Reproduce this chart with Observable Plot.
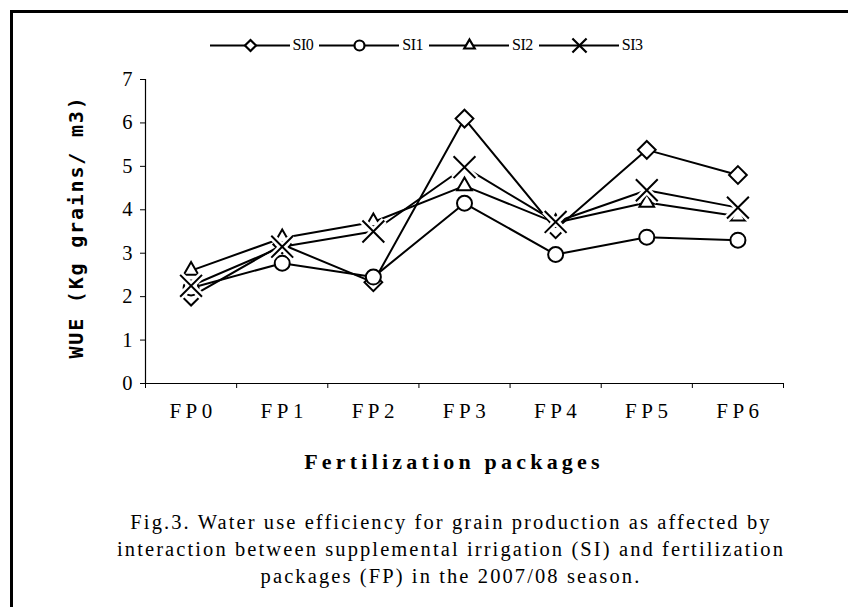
<!DOCTYPE html>
<html>
<head>
<meta charset="utf-8">
<script src="https://cdn.jsdelivr.net/npm/d3@7"></script>
<script src="https://cdn.jsdelivr.net/npm/@observablehq/plot@0.6"></script>
<style>
  html, body { margin: 0; padding: 0; background: #fff; }
  #wrap { position: relative; width: 848px; height: 607px; overflow: hidden; background: #fff; }
  #frame { position: absolute; left: 10px; top: 10px; width: 900px; height: 700px; border-top: 3px solid #000; border-left: 3px solid #000; }
  #chart { position: absolute; left: 0; top: 0; }
  #chart svg text { font-family: "Liberation Serif", "Times New Roman", serif; font-size: 20.5px; fill: #000; }
  #chart svg .xlab text { letter-spacing: 4.5px; font-size: 21px; }
  #legend { position: absolute; left: 0; top: 35px; width: 848px; display: flex; justify-content: center; padding-left: 10px; box-sizing: border-box; font-family: "Liberation Serif", serif; font-size: 16px; align-items: center; }
  .item { display: flex; align-items: center; margin-right: 6px; }
  .item span { margin-left: 3px; letter-spacing: -0.5px; }
  #ytitle { position: absolute; left: 76px; top: 227px; transform: translate(-50%, -50%) rotate(-90deg); white-space: nowrap; font-family: "DejaVu Sans Mono", monospace; font-weight: bold; font-size: 20px; letter-spacing: 1.8px; }
  #xtitle { position: absolute; left: 0; width: 848px; top: 449px; text-align: center; padding-left: 60px; box-sizing: border-box; font-family: "Liberation Serif", serif; font-weight: bold; font-size: 22px; letter-spacing: 4.2px; }
  #caption { position: absolute; left: 0; width: 848px; top: 509px; text-align: center; padding-left: 54px; box-sizing: border-box; font-family: "Liberation Serif", serif; font-size: 20.5px; letter-spacing: 2.1px; line-height: 27px; }
</style>
</head>
<body>
<div id="wrap">
  <div id="frame"></div>
  <div id="chart"></div>
  <div id="legend"></div>
  <div id="ytitle">WUE (Kg grains/ m3)</div>
  <div id="xtitle">Fertilization packages</div>
  <div id="caption">Fig.3. Water use efficiency for grain production as affected by<br>interaction between supplemental irrigation (SI) and fertilization<br>packages (FP) in the 2007/08 season.</div>
</div>
<script>
const categories = ["FP0", "FP1", "FP2", "FP3", "FP4", "FP5", "FP6"];
const seriesNames = ["SI0", "SI1", "SI2", "SI3"];
const SI0 = [2.0, 3.2, 2.33, 6.1, 3.55, 5.38, 4.8];
const SI1 = [2.2, 2.77, 2.45, 4.15, 2.97, 3.37, 3.3];
const SI2 = [2.6, 3.35, 3.72, 4.55, 3.7, 4.17, 3.85];
const SI3 = [2.25, 3.15, 3.5, 4.98, 3.72, 4.45, 4.05];
const yTicks = [0, 1, 2, 3, 4, 5, 6, 7];

const symbols = {SI0: "diamond2", SI1: "circle", SI2: "triangle2", SI3: "times"};
const radii = {SI0: 8, SI1: 7.5, SI2: 7, SI3: 10};
const valuesBy = {SI0, SI1, SI2, SI3};

const rows = seriesNames.flatMap(s => valuesBy[s].map((v, i) => ({series: s, i, cat: categories[i], value: v})));
const boundaries = d3.range(categories.length + 1).map(i => i - 0.5);

const marks = [
  Plot.axisY({ticks: yTicks, tickSize: 5, tickPadding: 8, tickFormat: d => String(d), label: null}),
  Plot.axisX({ticks: boundaries, tickSize: 5, tickFormat: () => "", label: null}),
  Plot.axisX({ticks: d3.range(categories.length), tickSize: 0, tickPadding: 20, dx: 2, tickFormat: i => categories[i], className: "xlab", label: null}),
  Plot.ruleY([0], {stroke: "#000", strokeWidth: 1.2}),
  Plot.ruleX([-0.5], {stroke: "#000", strokeWidth: 1.2})
];
for (const s of seriesNames) {
  const d = rows.filter(r => r.series === s);
  marks.push(Plot.line(d, {x: "i", y: "value", stroke: "#000", strokeWidth: 2}));
}
for (const s of seriesNames) {
  const d = rows.filter(r => r.series === s);
  if (s === "SI3") {
    marks.push(Plot.dot(d, {x: "i", y: "value", symbol: "times", r: radii[s], stroke: "#fff", strokeWidth: 7}));
    marks.push(Plot.dot(d, {x: "i", y: "value", symbol: "times", r: radii[s], stroke: "#000", strokeWidth: 2}));
  } else {
    marks.push(Plot.dot(d, {x: "i", y: "value", symbol: symbols[s], r: radii[s], fill: "#fff", stroke: "#000", strokeWidth: 2}));
  }
}

const chart = Plot.plot({
  width: 848,
  height: 607,
  marginLeft: 145,
  marginRight: 65,
  marginTop: 79,
  marginBottom: 224,
  x: {type: "linear", domain: [-0.5, categories.length - 0.5]},
  y: {domain: [0, 7]},
  style: {background: "transparent", color: "#000"},
  marks
});
document.getElementById("chart").appendChild(chart);

// legend
const legend = document.getElementById("legend");
for (const s of seriesNames) {
  const item = document.createElement("div");
  item.className = "item";
  const sym = Plot.plot({
    width: 80, height: 20, margin: 0,
    x: {domain: [0, 2]}, y: {domain: [0, 2]},
    axis: null,
    style: {background: "transparent"},
    marks: [
      Plot.ruleY([1], {stroke: "#000", strokeWidth: 2}),
      Plot.dot([1], {x: 1, y: 1, symbol: symbols[s], r: s === "SI3" ? 6.5 : 5, fill: s === "SI3" ? "none" : "#fff", stroke: "#000", strokeWidth: 2.2})
    ]
  });
  item.appendChild(sym);
  const t = document.createElement("span");
  t.textContent = s;
  item.appendChild(t);
  legend.appendChild(item);
}
</script>
</body>
</html>
